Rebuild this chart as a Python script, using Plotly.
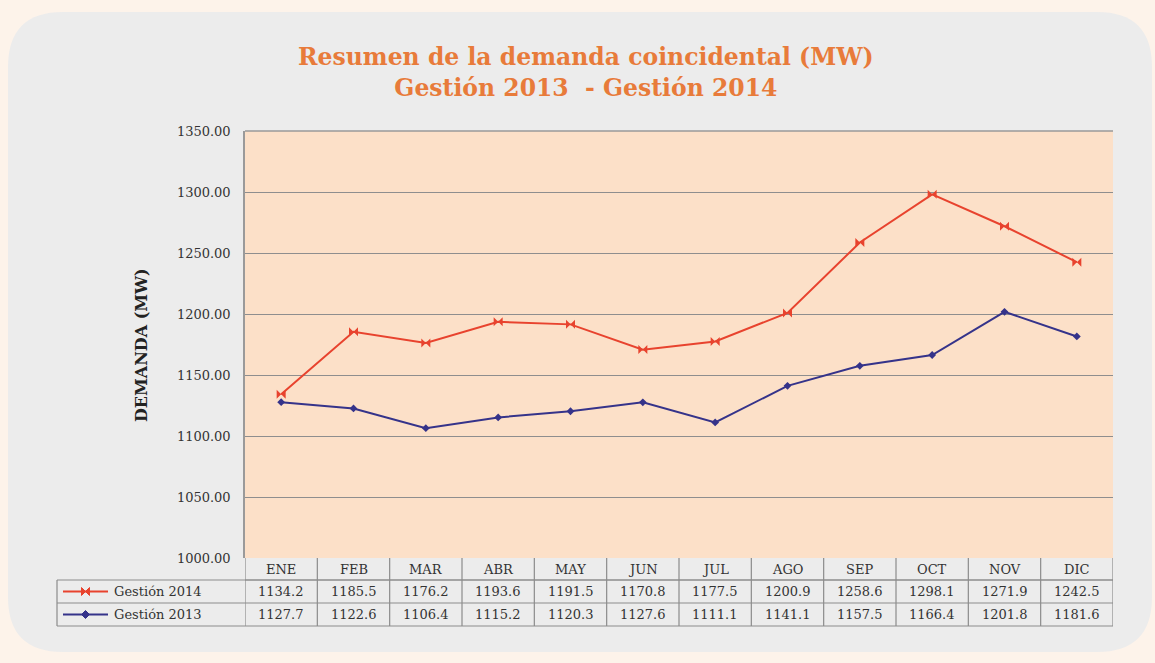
import plotly.graph_objects as go

W, H = 1155, 663
months = ["ENE", "FEB", "MAR", "ABR", "MAY", "JUN", "JUL", "AGO", "SEP", "OCT", "NOV", "DIC"]
g2014 = [1134.2, 1185.5, 1176.2, 1193.6, 1191.5, 1170.8, 1177.5, 1200.9, 1258.6, 1298.1, 1271.9, 1242.5]
g2013 = [1127.7, 1122.6, 1106.4, 1115.2, 1120.3, 1127.6, 1111.1, 1141.1, 1157.5, 1166.4, 1201.8, 1181.6]
series = [("Gestión 2014", g2014), ("Gestión 2013", g2013)]
yticks = [1000, 1050, 1100, 1150, 1200, 1250, 1300, 1350]

RED = "#E8432E"
BLUE = "#35338A"
SERIF = "DejaVu Serif"

def px(x):
    return x / W

def py(y):
    return 1 - y / H

x0, x1 = 245, 1113
y_top, y_bot = 131, 558

fig = go.Figure()
fig.add_trace(go.Scatter(x=list(range(12)), y=g2014, mode="lines+markers", name="Gestión 2014",
                         line=dict(color=RED, width=2),
                         marker=dict(symbol="bowtie", size=9, color=RED)))
fig.add_trace(go.Scatter(x=list(range(12)), y=g2013, mode="lines+markers", name="Gestión 2013",
                         line=dict(color=BLUE, width=2),
                         marker=dict(symbol="diamond", size=6, color=BLUE)))

shapes = []
# page background rounded panel
r = 55
L, T, R, B = 8, 12, 1152, 652
path = (f"M {px(L+r)},{py(T)} L {px(R-r)},{py(T)} Q {px(R)},{py(T)} {px(R)},{py(T+r)} "
        f"L {px(R)},{py(B-r)} Q {px(R)},{py(B)} {px(R-r)},{py(B)} L {px(L+r)},{py(B)} "
        f"Q {px(L)},{py(B)} {px(L)},{py(B-r)} L {px(L)},{py(T+r)} Q {px(L)},{py(T)} {px(L+r)},{py(T)} Z")
shapes.append(dict(type="path", xref="paper", yref="paper", path=path,
                   fillcolor="#ECECEC", line=dict(width=0), layer="below"))
# plot area fill
shapes.append(dict(type="rect", xref="paper", yref="paper", x0=px(x0), x1=px(x1), y0=py(y_bot), y1=py(y_top),
                   fillcolor="#FCE0C8", line=dict(width=0), layer="below"))

# table grid
gc = "#8C8C8C"
shapes.append(dict(type="line", xref="paper", yref="paper", x0=px(x0), x1=px(x1), y0=py(580), y1=py(580), line=dict(color=gc, width=1.2)))
for yy in [580, 603, 626]:
    shapes.append(dict(type="line", xref="paper", yref="paper", x0=px(57), x1=px(x1), y0=py(yy), y1=py(yy), line=dict(color=gc, width=1.2)))
shapes.append(dict(type="line", xref="paper", yref="paper", x0=px(57), x1=px(57), y0=py(580), y1=py(626), line=dict(color=gc, width=1.2)))
for i in range(13):
    shapes.append(dict(type="line", xref="x", yref="paper", x0=i - 0.5, x1=i - 0.5, y0=py(558), y1=py(626), line=dict(color=gc, width=1.2)))

annotations = []
for i, m in enumerate(months):
    annotations.append(dict(x=i, y=py(569), xref="x", yref="paper", text=m, showarrow=False,
                            xanchor="center", yanchor="middle",
                            font=dict(family=SERIF, size=13, color="#333333")))
for (name, vals), yc in zip(series, [591.5, 614.5]):
    for i, v in enumerate(vals):
        annotations.append(dict(x=i, y=py(yc), xref="x", yref="paper", text=f"{v:.1f}", showarrow=False,
                                xanchor="center", yanchor="middle",
                                font=dict(family=SERIF, size=13, color="#333333")))

# legend keys in table
def bowtie(cx, cy, s):
    return (f"M {px(cx-s)},{py(cy-s)} L {px(cx+s)},{py(cy+s)} L {px(cx+s)},{py(cy-s)} "
            f"L {px(cx-s)},{py(cy+s)} Z")

def diamond(cx, cy, s):
    return (f"M {px(cx)},{py(cy-s)} L {px(cx+s)},{py(cy)} L {px(cx)},{py(cy+s)} L {px(cx-s)},{py(cy)} Z")

for (name, vals), yc, col, mk in zip(series, [591.5, 614.5], [RED, BLUE], [bowtie, diamond]):
    shapes.append(dict(type="line", xref="paper", yref="paper", x0=px(63), x1=px(108), y0=py(yc), y1=py(yc),
                       line=dict(color=col, width=2)))
    shapes.append(dict(type="path", xref="paper", yref="paper", path=mk(85.5, yc, 4),
                       fillcolor=col, line=dict(color=col, width=1)))
    annotations.append(dict(x=px(112), y=py(yc), xref="paper", yref="paper", text=name, showarrow=False,
                            xanchor="left", yanchor="middle",
                            font=dict(family=SERIF, size=13, color="#333333")))

# title
annotations.append(dict(x=px(586), y=py(72), xref="paper", yref="paper", showarrow=False,
                        xanchor="center", yanchor="middle",
                        text="<b>Resumen de la demanda coincidental (MW)<br>Gestión 2013  - Gestión 2014</b>",
                        font=dict(family=SERIF, size=23.5, color="#E87B3A"), align="center"))
# y axis title
annotations.append(dict(x=px(141), y=py(345), xref="paper", yref="paper", showarrow=False, textangle=-90,
                        xanchor="center", yanchor="middle",
                        text="<b>DEMANDA (MW)</b>", font=dict(family=SERIF, size=16, color="#222222")))

# top border of plot
shapes.append(dict(type="line", xref="paper", yref="paper", x0=px(x0), x1=px(x1), y0=py(y_top), y1=py(y_top),
                   line=dict(color="#9A9A9A", width=1.3)))

fig.update_layout(
    template="none",
    width=W, height=H, margin=dict(l=0, r=0, t=0, b=0, pad=0, autoexpand=False),
    paper_bgcolor="#FDF3EA", plot_bgcolor="rgba(0,0,0,0)",
    showlegend=False, shapes=shapes, annotations=annotations,
    xaxis=dict(domain=[px(x0), px(x1)], range=[-0.5, 11.5], showticklabels=False, showgrid=False,
               zeroline=False, showline=False, fixedrange=True, automargin=False),
    yaxis=dict(domain=[py(y_bot), py(y_top)], range=[1000, 1350], tickvals=yticks,
               ticktext=[f"{v:.2f}" for v in yticks], showgrid=True, gridcolor="#8E8E8E", gridwidth=1.3,
               zeroline=False, showline=True, linecolor="#9A9A9A", linewidth=1.5, ticks="",
               tickfont=dict(family=SERIF, size=13, color="#333333"), ticklabelstandoff=10,
               automargin=False),
)

fig.write_html("out.html", post_script="document.body.style.margin='0';",
               config={"displayModeBar": False})
